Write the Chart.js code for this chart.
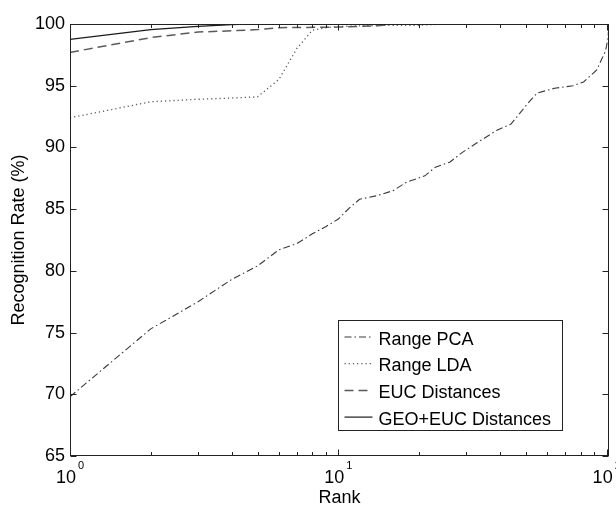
<!DOCTYPE html>
<html>
<head>
<meta charset="utf-8">
<title>Recognition rate vs rank</title>
<script src="https://cdn.jsdelivr.net/npm/chart.js@4.4.1/dist/chart.umd.min.js"></script>
<style>
  body { margin: 0; background: #fff; }
  canvas { display: block; }
</style>
</head>
<body>
<canvas id="myChart" width="616" height="511"></canvas>
<script>
// values (rank on a log axis, rate in %)
const pcaRanks = [1, 2, 3, 4, 5, 6, 7, 8, 9, 10, 11, 12, 14, 16, 18, 21, 23, 26, 29, 33, 39, 44, 48, 51, 55, 64, 75, 82, 88, 92, 96, 99, 101, 102];
const pcaRates = [69.8, 75.3, 77.5, 79.3, 80.4, 81.7, 82.2, 83.0, 83.6, 84.2, 85.1, 85.8, 86.1, 86.5, 87.2, 87.7, 88.4, 88.8, 89.6, 90.4, 91.4, 91.9, 92.9, 93.6, 94.4, 94.8, 95.0, 95.3, 95.9, 96.3, 97.2, 97.8, 98.8, 99.9];

const ldaRanks = [1, 2, 3, 4, 5, 6, 7, 8, 9, 10, 15, 20, 25, 102];
const ldaRates = [92.4, 93.7, 93.9, 94.0, 94.1, 95.5, 98.0, 99.5, 99.7, 99.8, 99.9, 99.9, 100, 100];

const eucRanks = [1, 2, 3, 4, 5, 6, 10, 14, 16, 102];
const eucRates = [97.7, 98.9, 99.35, 99.45, 99.55, 99.7, 99.75, 99.85, 100, 100];

const geoRanks = [1, 2, 3, 4, 5, 102];
const geoRates = [98.75, 99.55, 99.8, 99.95, 100, 100];

const seriesLabels = ['Range PCA', 'Range LDA', 'EUC Distances', 'GEO+EUC Distances'];

// axis ticks
const xTicks = [1, 2, 3, 4, 5, 6, 7, 8, 9, 10, 20, 30, 40, 50, 60, 70, 80, 90, 100];
const xMajor = [1, 10, 100];
const xExponents = ['0', '1', '2'];
const yTicks = [65, 70, 75, 80, 85, 90, 95, 100];

const fontFamily = "'Liberation Sans', Arial, Helvetica, sans-serif";
Chart.defaults.font.family = fontFamily;
Chart.defaults.color = '#000';

function toPoints(ranks, rates) {
  return ranks.map((r, i) => ({ x: r, y: rates[i] }));
}

// box, inward ticks, 10^n labels and the legend, MATLAB style
const matlabFrame = {
  id: 'matlabFrame',
  afterDraw(chart) {
    const { ctx, chartArea: a, scales } = chart;
    const x = scales.x, y = scales.y;
    const L = Math.round(a.left) + 0.5, R = Math.round(a.right) - 0.5;
    const T = Math.round(a.top) + 0.5, B = Math.round(a.bottom) - 0.5;
    ctx.save();
    ctx.strokeStyle = '#222';
    ctx.lineWidth = 1;
    ctx.strokeRect(L, T, R - L, B - T);

    ctx.beginPath();
    xTicks.forEach(v => {
      const px = Math.round(x.getPixelForValue(v)) + 0.5;
      const len = xMajor.includes(v) ? 6 : 3.5;
      ctx.moveTo(px, B); ctx.lineTo(px, B - len);
      ctx.moveTo(px, T); ctx.lineTo(px, T + len);
    });
    yTicks.forEach(v => {
      const py = Math.round(y.getPixelForValue(v)) + 0.5;
      ctx.moveTo(L, py); ctx.lineTo(L + 6, py);
      ctx.moveTo(R, py); ctx.lineTo(R - 6, py);
    });
    ctx.stroke();

    // x tick labels 10^n
    ctx.fillStyle = '#000';
    ctx.textBaseline = 'alphabetic';
    ctx.textAlign = 'left';
    xMajor.forEach((v, i) => {
      const px = x.getPixelForValue(v);
      ctx.font = '18px ' + fontFamily;
      const w1 = ctx.measureText('10').width;
      ctx.font = '11px ' + fontFamily;
      const w2 = ctx.measureText(xExponents[i]).width;
      const start = px - (w1 + 2 + w2) / 2;
      ctx.font = '18px ' + fontFamily;
      ctx.fillText('10', start, B + 27);
      ctx.font = '11px ' + fontFamily;
      ctx.fillText(xExponents[i], start + w1 + 2, B + 13);
    });

    // legend
    const bx = Math.round(a.right) - 270.5, by = Math.round(a.bottom) - 135.5;
    const bw = 224, bh = 110;
    ctx.fillStyle = '#fff';
    ctx.fillRect(bx, by, bw, bh);
    ctx.strokeStyle = '#222';
    ctx.strokeRect(bx, by, bw, bh);
    ctx.font = '18px ' + fontFamily;
    chart.data.datasets.forEach((ds, i) => {
      const cy = by + 16.5 + i * 26.7;
      ctx.save();
      ctx.strokeStyle = ds.borderColor;
      ctx.lineWidth = ds.borderWidth;
      ctx.setLineDash(ds.borderDash || []);
      ctx.beginPath();
      ctx.moveTo(bx + 6, cy);
      ctx.lineTo(bx + 34, cy);
      ctx.stroke();
      ctx.restore();
      ctx.fillStyle = '#000';
      ctx.fillText(ds.label, bx + 40, cy + 7.5);
    });
    ctx.restore();
  }
};

const ctx = document.getElementById('myChart').getContext('2d');
const myChart = new Chart(ctx, {
  type: 'line',
  data: {
    datasets: [
      {
        label: seriesLabels[0],
        data: toPoints(pcaRanks, pcaRates),
        borderColor: '#3a3a3a',
        borderWidth: 1.1,
        borderDash: [7, 3, 1.5, 3]
      },
      {
        label: seriesLabels[1],
        data: toPoints(ldaRanks, ldaRates),
        borderColor: '#555',
        borderWidth: 1.3,
        borderDash: [1.2, 3]
      },
      {
        label: seriesLabels[2],
        data: toPoints(eucRanks, eucRates),
        borderColor: '#5a5a5a',
        borderWidth: 1.5,
        borderDash: [9, 5]
      },
      {
        label: seriesLabels[3],
        data: toPoints(geoRanks, geoRates),
        borderColor: '#1a1a1a',
        borderWidth: 1.2
      }
    ]
  },
  options: {
    responsive: false,
    animation: false,
    devicePixelRatio: 1,
    layout: { padding: { top: 24, right: 7, left: 0, bottom: 0 } },
    elements: {
      point: { radius: 0 },
      line: { tension: 0, fill: false }
    },
    plugins: {
      legend: { display: false },
      tooltip: { enabled: false }
    },
    scales: {
      x: {
        type: 'logarithmic',
        min: 1,
        max: 102,
        grid: { display: false, drawTicks: false },
        border: { display: false },
        ticks: { display: false },
        afterBuildTicks: scale => {
          scale.ticks = xTicks.map(v => ({ value: v, major: xMajor.includes(v) }));
        },
        afterFit: scale => {
          scale.height = 55;
          scale.paddingLeft = 0;
          scale.paddingRight = 0;
        },
        title: {
          display: true,
          text: 'Rank',
          font: { size: 18 },
          padding: { top: 0, bottom: 2 }
        }
      },
      y: {
        min: 65,
        max: 100,
        grid: { display: false, drawTicks: false },
        border: { display: false },
        afterBuildTicks: scale => {
          scale.ticks = yTicks.map(v => ({ value: v }));
        },
        ticks: {
          font: { size: 18 },
          padding: 5
        },
        afterFit: scale => {
          scale.width = 70;
        },
        title: {
          display: true,
          text: 'Recognition Rate (%)',
          font: { size: 18 },
          padding: { top: 8, bottom: 0 }
        }
      }
    }
  },
  plugins: [matlabFrame]
});
</script>
</body>
</html>
